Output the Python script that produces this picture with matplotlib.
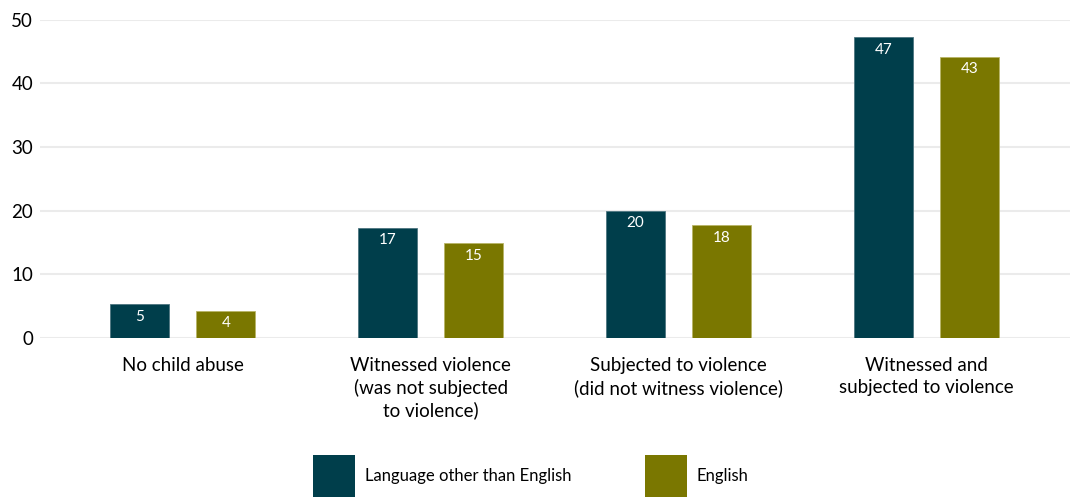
import numpy as np
import matplotlib.pyplot as plt
from matplotlib.patches import Rectangle

plt.rcParams['font.family'] = ['Lato', 'DejaVu Sans']

categories = ["No child abuse",
              "Witnessed violence\n(was not subjected\nto violence)",
              "Subjected to violence\n(did not witness violence)",
              "Witnessed and\nsubjected to violence"]
other_lang = [5.3, 17.3, 20.0, 47.3]
english = [4.3, 14.9, 17.7, 44.2]
other_lang_labels = ["5", "17", "20", "47"]
english_labels = ["4", "15", "18", "43"]
series_names = ["Language other than English", "English"]

c_other = "#003e4b"
c_eng = "#7a7700"

fig = plt.figure(figsize=(10.73, 4.97), dpi=100)
ax = fig.add_axes([0.0373, 0.32, 0.96, 0.64])

x = np.arange(len(categories))
w = 0.238
off = 0.1735
b1 = ax.bar(x - off, other_lang, w, color=c_other, edgecolor="#4d7580", linewidth=0.6, zorder=3)
b2 = ax.bar(x + off, english, w, color=c_eng, edgecolor="#b8b566", linewidth=0.6, zorder=3)

for bars, labs in ((b1, other_lang_labels), (b2, english_labels)):
    for b, lab in zip(bars, labs):
        ax.annotate(lab, (b.get_x() + b.get_width() / 2, b.get_height()),
                    xytext=(0, -4), textcoords="offset points",
                    ha="center", va="top", color="white", fontsize=11, zorder=4)

ax.set_xlim(-0.576, 3.58)
ax.set_ylim(0, 50)
ax.set_yticks([0, 10, 20, 30, 40, 50])
ax.set_xticks(x)
ax.set_xticklabels(categories, fontsize=13.5, linespacing=1.3)
ax.tick_params(axis="x", length=0, pad=14)
ax.tick_params(axis="y", length=0, pad=5, labelsize=13.5)
ax.grid(axis="y", color="#ebebeb", linewidth=1.5, zorder=0)
ax.set_axisbelow(True)
for s in ax.spines.values():
    s.set_visible(False)

# legend drawn by hand so the swatches sit flush with the bottom edge
W, H = 1073, 497
for px, col, name in ((313, c_other, series_names[0]), (645, c_eng, series_names[1])):
    fig.patches.append(Rectangle((px / W, 0), 42 / W, 42 / H, transform=fig.transFigure,
                                 facecolor=col, edgecolor="none"))
    fig.text((px + 52) / W, 21 / H, name, fontsize=12, va="center", ha="left")

fig.savefig("out.png", dpi=100)
